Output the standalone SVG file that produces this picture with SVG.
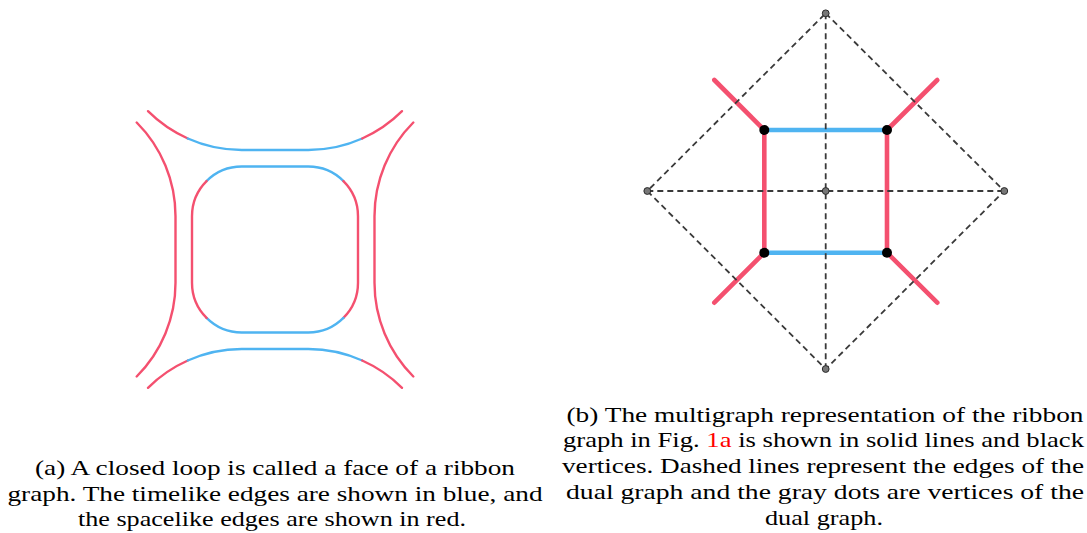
<svg xmlns="http://www.w3.org/2000/svg" width="1087" height="533" viewBox="0 0 1087 533">
<style>
.r{fill:none;stroke:#f4506f;stroke-width:2.4;stroke-linecap:round}
.b{fill:none;stroke:#4fb4f1;stroke-width:2.4;stroke-linecap:round}
.R{fill:none;stroke:#f4506f;stroke-width:4.6;stroke-linecap:round}
.B{fill:none;stroke:#4fb4f1;stroke-width:4.6}
.d{fill:none;stroke:#3a3a3a;stroke-width:1.8;stroke-dasharray:6 4}
.v{fill:#000}
.g{fill:#777;stroke:#2a2a2a;stroke-width:1}
</style>
<rect width="1087" height="533" fill="#fff"/>
<g id="ribbon-graph">
  <g id="inner-face">
    <path class="b" d="M206.56,181.06 A49.7,49.7 0 0 1 241.7,166.5 L308.3,166.5 A49.7,49.7 0 0 1 343.44,181.06"/>
    <path class="r" d="M343.44,181.06 A49.7,49.7 0 0 1 358,216.2 L358,282.8 A49.7,49.7 0 0 1 343.44,317.94"/>
    <path class="b" d="M343.44,317.94 A49.7,49.7 0 0 1 308.3,332.5 L241.7,332.5 A49.7,49.7 0 0 1 206.56,317.94"/>
    <path class="r" d="M206.56,317.94 A49.7,49.7 0 0 1 192,282.8 L192,216.2 A49.7,49.7 0 0 1 206.56,181.06"/>
  </g>
  <g id="outer-top">
    <path class="r" d="M148,111.2 A132.5,132.5 0 0 0 187.8,138.5"/>
    <path class="b" d="M187.8,138.5 A132.5,132.5 0 0 0 241.7,150 L308.3,150 A132.5,132.5 0 0 0 362.2,138.5"/>
    <path class="r" d="M362.2,138.5 A132.5,132.5 0 0 0 402,111.2"/>
  </g>
  <g id="outer-bottom">
    <path class="r" d="M148,387.8 A132.5,132.5 0 0 1 187.8,360.5"/>
    <path class="b" d="M187.8,360.5 A132.5,132.5 0 0 1 241.7,349 L308.3,349 A132.5,132.5 0 0 1 362.2,360.5"/>
    <path class="r" d="M362.2,360.5 A132.5,132.5 0 0 1 402,387.8"/>
  </g>
  <g id="outer-left">
    <path class="r" d="M136.7,122.5 A132.5,132.5 0 0 1 175.5,216.2 L175.5,282.8 A132.5,132.5 0 0 1 136.7,376.5"/>
  </g>
  <g id="outer-right">
    <path class="r" d="M413.3,122.5 A132.5,132.5 0 0 0 374.5,216.2 L374.5,282.8 A132.5,132.5 0 0 0 413.3,376.5"/>
  </g>
</g>
<g id="connectors">
  <line class="R" x1="764.3" y1="130" x2="714.3" y2="80"/>
  <line class="R" x1="887" y1="130" x2="937.3" y2="80"/>
  <line class="R" x1="764.3" y1="252.7" x2="714.3" y2="302.7"/>
  <line class="R" x1="887" y1="252.7" x2="937.3" y2="302.7"/>
  <line class="R" x1="764.3" y1="130" x2="764.3" y2="252.7"/>
  <line class="R" x1="887" y1="130" x2="887" y2="252.7"/>
  <line class="B" x1="764.3" y1="130" x2="887" y2="130"/>
  <line class="B" x1="764.3" y1="252.7" x2="887" y2="252.7"/>
  <path class="d" d="M825.7,13.3 L1004.3,191 L825.7,369 L647.3,191 Z"/>
  <line class="d" x1="647.3" y1="191" x2="1004.3" y2="191"/>
  <line class="d" x1="825.7" y1="13.3" x2="825.7" y2="369"/>
</g>
<g id="v1"><circle class="v" cx="764.3" cy="130" r="5"/></g>
<g id="v2"><circle class="v" cx="887" cy="130" r="5"/></g>
<g id="v3"><circle class="v" cx="764.3" cy="252.7" r="5"/></g>
<g id="v4"><circle class="v" cx="887" cy="252.7" r="5"/></g>
<g id="d-top"><circle class="g" cx="825.7" cy="13.3" r="3.4"/></g>
<g id="d-left"><circle class="g" cx="647.3" cy="191" r="3.4"/></g>
<g id="d-right"><circle class="g" cx="1004.3" cy="191" r="3.4"/></g>
<g id="d-bottom"><circle class="g" cx="825.7" cy="369" r="3.4"/></g>
<g id="d-center"><circle class="g" cx="825.7" cy="191" r="3.4"/></g>
<g id="caption-a" font-family="Liberation Serif, serif" font-size="22" fill="#000" text-anchor="middle">
  <text x="275" y="475" textLength="480" lengthAdjust="spacingAndGlyphs">(a) A closed loop is called a face of a ribbon</text>
  <text x="275" y="500.5" textLength="535" lengthAdjust="spacingAndGlyphs">graph. The timelike edges are shown in blue, and</text>
  <text x="272" y="526" textLength="388" lengthAdjust="spacingAndGlyphs">the spacelike edges are shown in red.</text>
</g>
<g id="caption-b" font-family="Liberation Serif, serif" font-size="22" fill="#000" text-anchor="middle">
  <text x="825" y="421.5" textLength="517" lengthAdjust="spacingAndGlyphs">(b) The multigraph representation of the ribbon</text>
  <text x="823.5" y="447" textLength="521" lengthAdjust="spacingAndGlyphs">graph in Fig. <tspan fill="#ff0000">1a</tspan> is shown in solid lines and black</text>
  <text x="823" y="473" textLength="522" lengthAdjust="spacingAndGlyphs">vertices. Dashed lines represent the edges of the</text>
  <text x="825" y="499" textLength="518" lengthAdjust="spacingAndGlyphs">dual graph and the gray dots are vertices of the</text>
  <text x="824" y="525" textLength="118" lengthAdjust="spacingAndGlyphs">dual graph.</text>
</g>
</svg>
